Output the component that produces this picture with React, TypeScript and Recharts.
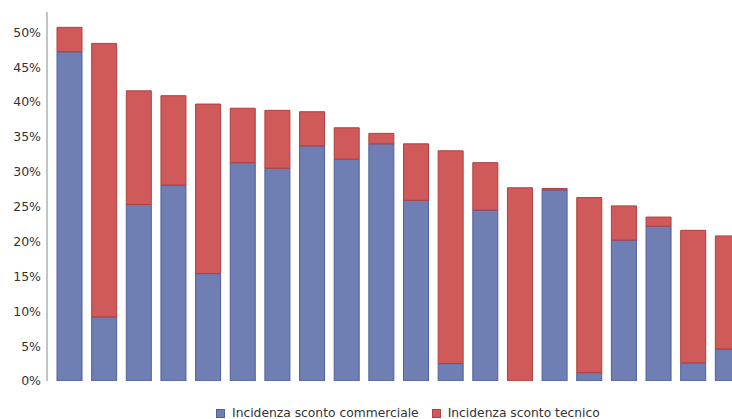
import React from "react";
import { BarChart, Bar, XAxis, YAxis } from "recharts";

const categories = ["1","2","3","4","5","6","7","8","9","10","11","12","13","14","15","16","17","18","19","20"];
const commerciale = [0.472,0.092,0.253,0.281,0.154,0.313,0.305,0.337,0.318,0.340,0.259,0.025,0.245,0.0,0.274,0.012,0.202,0.222,0.026,0.046];
const tecnico = [0.035,0.392,0.163,0.128,0.243,0.078,0.083,0.049,0.045,0.015,0.081,0.305,0.068,0.277,0.002,0.251,0.049,0.013,0.190,0.162];
const yTicks = [0,0.05,0.1,0.15,0.2,0.25,0.3,0.35,0.4,0.45,0.5];
const seriesNames = ["Incidenza sconto commerciale", "Incidenza sconto tecnico"];

const data = categories.map((c, i) => ({ name: c, commerciale: commerciale[i], tecnico: tecnico[i] }));

const BLUE = "#6f7fb4";
const BLUE_S = "#4f5e9e";
const RED = "#d05a5a";
const RED_S = "#b03f3f";
const FONT = "'DejaVu Sans', sans-serif";

export default function App() {
  return (
    <div style={{ position: "absolute", left: 0, top: 0, width: 732, height: 419, overflow: "hidden", background: "#fff" }}>
      <BarChart
        width={745}
        height={419}
        data={data}
        margin={{ top: 12, right: 0, bottom: 38, left: 0 }}
        barSize={25}
      >
        <XAxis
          dataKey="name"
          tick={false}
          tickLine={false}
          height={0}
          axisLine={{ stroke: "#c4c4c4", strokeWidth: 2 }}
          padding={{ left: 5, right: 0 }}
        />
        <YAxis
          width={47}
          domain={[0, 0.529]}
          ticks={yTicks}
          allowDataOverflow
          tickLine={false}
          tickSize={6}
          tickMargin={0}
          axisLine={{ stroke: "#c4c4c4", strokeWidth: 2 }}
          tickFormatter={(v: number) => `${Math.round(v * 100)}%`}
          tick={{ fill: "#333", fontSize: 12.5, fontFamily: FONT }}
        />
        <Bar dataKey="commerciale" stackId="a" fill={BLUE} stroke={BLUE_S} strokeWidth={1} isAnimationActive={false} />
        <Bar dataKey="tecnico" stackId="a" fill={RED} stroke={RED_S} strokeWidth={1} isAnimationActive={false} />
      </BarChart>
      <div style={{ position: "absolute", left: 216, top: 406, fontFamily: FONT, fontSize: 12.3, color: "#333", display: "flex", alignItems: "center", whiteSpace: "nowrap" }}>
        <span style={{ display: "inline-block", width: 7, height: 7, background: BLUE, border: `1px solid ${BLUE_S}`, marginRight: 7 }} />
        <span style={{ marginRight: 13 }}>{seriesNames[0]}</span>
        <span style={{ display: "inline-block", width: 7, height: 7, background: RED, border: `1px solid ${RED_S}`, marginRight: 7 }} />
        <span>{seriesNames[1]}</span>
      </div>
    </div>
  );
}
